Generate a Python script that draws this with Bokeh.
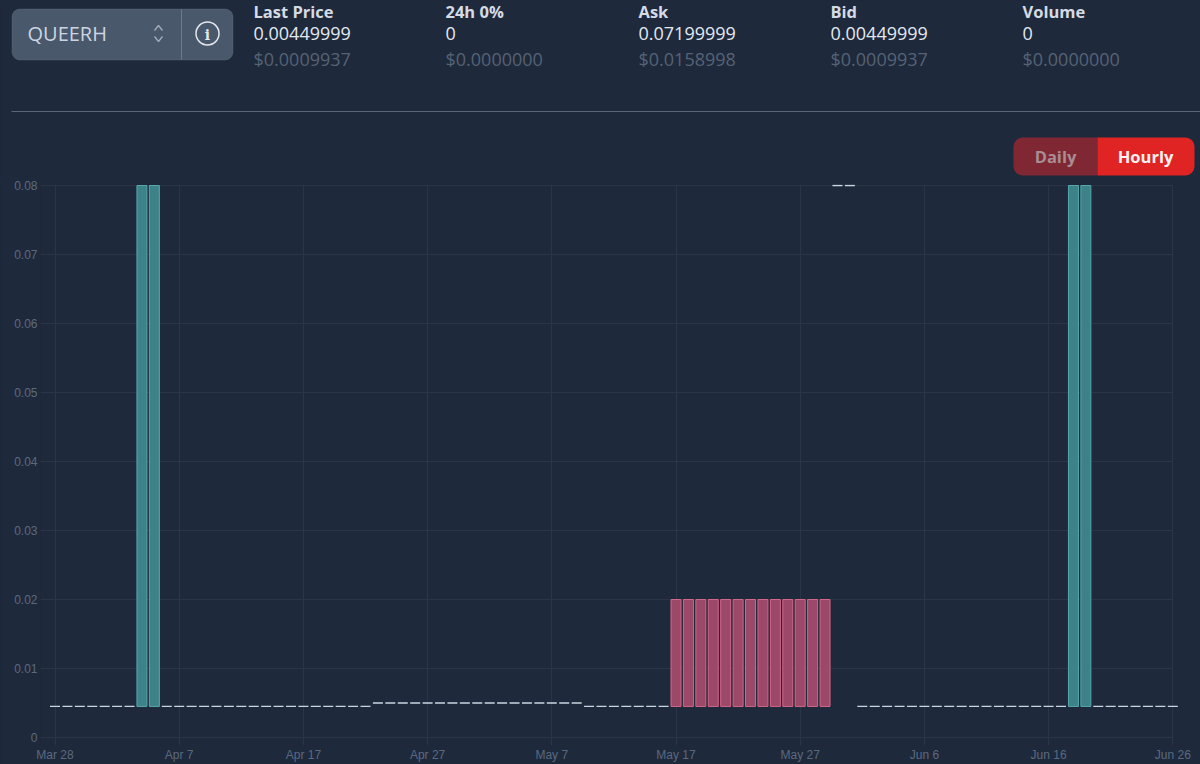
import pandas as pd
from bokeh.plotting import figure
from bokeh.layouts import column
from bokeh.models import Range1d, FixedTicker, BoxAnnotation, ColumnDataSource
from bokeh.core.properties import value
from bokeh.embed import file_html
from bokeh.resources import INLINE

BG = "#1e293b"

symbol = "QUEERH"
stat_titles = ["Last Price", "24h 0%", "Ask", "Bid", "Volume"]
stat_values = ["0.00449999", "0", "0.07199999", "0.00449999", "0"]
stat_usd = ["$0.0009937", "$0.0000000", "$0.0158998", "$0.0009937", "$0.0000000"]

first_day = "2024-03-28"
opens = [
    0.0045, 0.0045, 0.0045, 0.0045, 0.0045, 0.0045, 0.0045,
    0.0045, 0.0045,
    0.0045, 0.0045, 0.0045, 0.0045, 0.0045, 0.0045, 0.0045, 0.0045, 0.0045,
    0.0045, 0.0045, 0.0045, 0.0045, 0.0045, 0.0045, 0.0045, 0.0045,
    0.005, 0.005, 0.005, 0.005, 0.005, 0.005, 0.005, 0.005, 0.005,
    0.005, 0.005, 0.005, 0.005, 0.005, 0.005, 0.005, 0.005,
    0.0045, 0.0045, 0.0045, 0.0045, 0.0045, 0.0045, 0.0045,
    0.02, 0.02, 0.02, 0.02, 0.02, 0.02, 0.02, 0.02, 0.02, 0.02, 0.02, 0.02, 0.02,
    0.08, 0.08,
    0.0045, 0.0045, 0.0045, 0.0045, 0.0045, 0.0045, 0.0045, 0.0045, 0.0045,
    0.0045, 0.0045, 0.0045, 0.0045, 0.0045, 0.0045, 0.0045, 0.0045,
    0.0045, 0.0045,
    0.0045, 0.0045, 0.0045, 0.0045, 0.0045, 0.0045, 0.0045,
]
closes = [
    0.0045, 0.0045, 0.0045, 0.0045, 0.0045, 0.0045, 0.0045,
    0.08, 0.08,
    0.0045, 0.0045, 0.0045, 0.0045, 0.0045, 0.0045, 0.0045, 0.0045, 0.0045,
    0.0045, 0.0045, 0.0045, 0.0045, 0.0045, 0.0045, 0.0045, 0.0045,
    0.005, 0.005, 0.005, 0.005, 0.005, 0.005, 0.005, 0.005, 0.005,
    0.005, 0.005, 0.005, 0.005, 0.005, 0.005, 0.005, 0.005,
    0.0045, 0.0045, 0.0045, 0.0045, 0.0045, 0.0045, 0.0045,
    0.0045, 0.0045, 0.0045, 0.0045, 0.0045, 0.0045, 0.0045, 0.0045, 0.0045, 0.0045, 0.0045, 0.0045, 0.0045,
    0.08, 0.08,
    0.0045, 0.0045, 0.0045, 0.0045, 0.0045, 0.0045, 0.0045, 0.0045, 0.0045,
    0.0045, 0.0045, 0.0045, 0.0045, 0.0045, 0.0045, 0.0045, 0.0045,
    0.08, 0.08,
    0.0045, 0.0045, 0.0045, 0.0045, 0.0045, 0.0045, 0.0045,
]
x_tick_dates = ["2024-03-28", "2024-04-07", "2024-04-17", "2024-04-27", "2024-05-07",
                "2024-05-17", "2024-05-27", "2024-06-06", "2024-06-16", "2024-06-26"]
x_tick_labels = ["Mar 28", "Apr 7", "Apr 17", "Apr 27", "May 7",
                 "May 17", "May 27", "Jun 6", "Jun 16", "Jun 26"]
y_ticks = [0, 0.01, 0.02, 0.03, 0.04, 0.05, 0.06, 0.07, 0.08]
y_tick_labels = ["0", "0.01", "0.02", "0.03", "0.04", "0.05", "0.06", "0.07", "0.08"]

# ---------- header strip, in page pixels ----------
UI_FONT = value("Open Sans")
head = figure(width=1200, height=176, x_range=Range1d(0, 1200), y_range=Range1d(176, 0),
              output_backend="svg", toolbar_location=None,
              x_axis_location=None, y_axis_location=None,
              min_border_left=0, min_border_right=0, min_border_top=0, min_border_bottom=0,
              background_fill_color=BG, border_fill_color=BG, frame_align=False,
              styles={"background-color": BG})
head.outline_line_color = None
head.grid.visible = False


def box(**kw):
    head.add_layout(BoxAnnotation(level="underlay", fill_alpha=1, **kw))


box(left=11.5, right=232.5, top=8.5, bottom=59.5, border_radius=8,
    fill_color="#4a586c", line_color="#6d7a8c", line_width=1)
head.segment([181], [9], [181], [59], line_color="#6d7a8c", line_width=1)
head.text([27], [33], text=[symbol], text_font=UI_FONT, text_font_size="20px",
          text_color="#cbd5e1", text_baseline="middle")
head.line([154, 158, 162], [30, 25, 30], line_color="#a3adba", line_width=1.3)
head.line([154, 158, 162], [36, 41, 36], line_color="#a3adba", line_width=1.3)
head.scatter([207], [33], size=23, marker="circle", fill_color=None, line_color="#e2e8f0", line_width=1.5)
head.text([207], [34], text=["i"], text_font=value("DejaVu Serif"), text_font_size="14px", text_font_style="bold",
          text_color="#e2e8f0", text_align="center", text_baseline="middle")

stat_x = [253, 445, 638, 830, 1022]
head.text(stat_x, [11] * 5, text=stat_titles, text_font=UI_FONT, text_font_size="16.5px", text_font_style="bold",
          text_color="#d5dbe4", text_baseline="middle")
head.text(stat_x, [33] * 5, text=stat_values, text_font=UI_FONT, text_font_size="18px",
          text_color="#e2e8f0", text_baseline="middle")
head.text(stat_x, [58] * 5, text=stat_usd, text_font=UI_FONT, text_font_size="18px",
          text_color="#566275", text_baseline="middle")
head.segment([11], [111], [1200], [111], line_color="#5a6676", line_width=1)

box(left=1013, right=1097, top=137, bottom=175, border_radius=(9, 0, 0, 9),
    fill_color="#7f2833", line_color=None)
box(left=1097, right=1194, top=137, bottom=175, border_radius=(0, 9, 9, 0),
    fill_color="#e02424", line_color=None)
head.text([1055, 1145], [156, 156], text=["Daily", "Hourly"], text_font=UI_FONT, text_font_size="16.5px",
          text_font_style="bold", text_color=["#a98d93", "#fdf2f2"],
          text_align="center", text_baseline="middle")

# ---------- chart ----------
dates = pd.date_range(first_day, periods=len(opens), freq="D")
DAY = 86400000.0
PX_PER_DAY = 12.42
PX_PER_UNIT = 6900.0
x0 = pd.Timestamp(first_day).timestamp() * 1000.0
x_start = x0 - DAY * 14.5 / PX_PER_DAY
x_end = x_start + DAY * 1140 / PX_PER_DAY

chart = figure(width=1200, height=588, output_backend="svg", toolbar_location=None,
               x_axis_type="datetime",
               x_range=Range1d(x_start, x_end),
               y_range=Range1d(-8 / PX_PER_UNIT, 0.08 + 1 / PX_PER_UNIT),
               min_border_left=40, min_border_right=20, min_border_top=8, min_border_bottom=19,
               background_fill_color=BG, border_fill_color=BG, frame_align=False,
               styles={"background-color": BG})
chart.outline_line_color = None
chart.ygrid.visible = False
chart.xgrid.grid_line_color = "#2a3648"
chart.xgrid.grid_line_width = 1

tick_ms = [pd.Timestamp(d).timestamp() * 1000.0 for d in x_tick_dates]
chart.xaxis.ticker = FixedTicker(ticks=tick_ms)
chart.xaxis.major_label_overrides = dict(zip(tick_ms, x_tick_labels))
chart.yaxis.ticker = FixedTicker(ticks=y_ticks)
chart.yaxis.major_label_overrides = dict(zip(y_ticks, y_tick_labels))
for ax in (chart.xaxis[0], chart.yaxis[0]):
    ax.axis_line_color = None
    ax.major_tick_line_color = None
    ax.minor_tick_line_color = None
    ax.major_tick_out = 0
    ax.major_tick_in = 0
    ax.minor_tick_out = 0
    ax.minor_tick_in = 0
    ax.major_label_text_font = "Liberation Sans"
    ax.major_label_text_font_size = "12px"
    ax.major_label_text_color = "#5b6980"
chart.xaxis.major_label_standoff = 2
chart.yaxis.major_label_standoff = 3

chart.segment([x_start] * len(y_ticks), y_ticks, [tick_ms[-1]] * len(y_ticks), y_ticks,
              line_color="#2a3648", line_width=1)

flat, up, down = [], [], []
for d, o, c in zip(dates, opens, closes):
    (flat if o == c else up if c > o else down).append((d, o, c))


def src(rows):
    return ColumnDataSource(dict(x=[r[0] for r in rows],
                                 top=[max(r[1], r[2]) for r in rows],
                                 bottom=[min(r[1], r[2]) for r in rows]))


BAR_W = DAY * 10 / PX_PER_DAY
chart.vbar("x", BAR_W, "top", "bottom", source=src(flat), fill_color=None,
           line_color="#cbd5e1", line_width=1.3)
chart.vbar("x", BAR_W, "top", "bottom", source=src(up), fill_color="#3e8289",
           line_color="#57a8ab", line_width=1)
chart.vbar("x", BAR_W, "top", "bottom", source=src(down), fill_color="#9c4868",
           line_color="#d4668a", line_width=1)

page = column(head, chart, spacing=0, styles={"background-color": BG})
open("out.html", "w").write(file_html(page, INLINE))
